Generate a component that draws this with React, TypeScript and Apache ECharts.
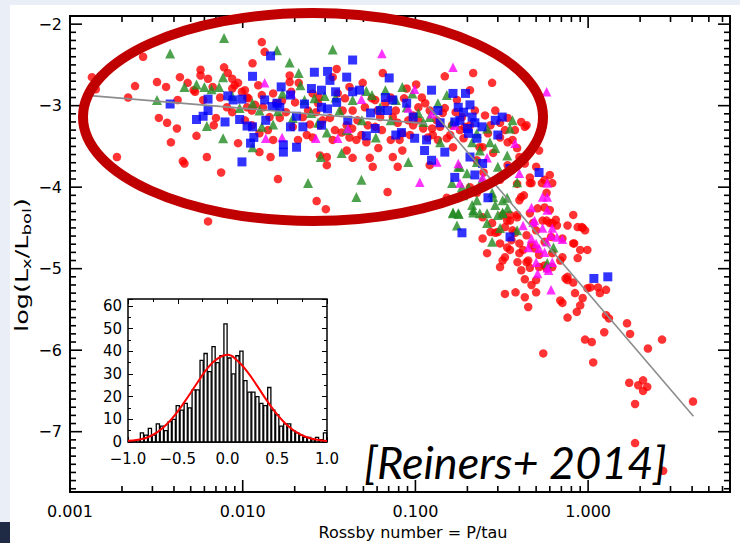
import React, { useEffect, useRef } from "react";
import * as echarts from "echarts";

// Rossby number (P/tau) vs log(Lx/Lbol) — four stellar samples
const RED_SAMPLE: [number, number][] = [
  [0.00134,-2.65],[0.00141,-2.80],[0.00187,-3.63],[0.00217,-2.90],[0.00238,-2.76],[0.00265,-2.40],[0.00319,-2.71],[0.00327,-3.15],[0.00365,-3.21],[0.00416,-3.28],[0.00384,-3.45],[0.00433,-2.65],[0.0045,-3.68],[0.0046,-3.71],[0.0048,-2.72],[0.0053,-2.83],[0.0054,-3.37],[0.0057,-2.56],[0.0062,-3.63],[0.0063,-2.67],[0.0070,-3.15],[0.0075,-3.82],[0.0078,-2.53],[0.0082,-2.60],[0.0087,-2.67],[0.0090,-2.75],[0.0099,-2.83],[0.0106,-2.90],[0.0094,-3.46],[0.0114,-2.48],[0.0125,-3.57],[0.0129,-2.22],[0.0134,-2.34],[0.0131,-3.02],[0.0145,-3.63],[0.0160,-3.90],[0.0164,-3.15],[0.0169,-2.94],[0.0187,-2.63],[0.0195,-3.26],[0.0211,-2.72],[0.0235,-3.36],[0.0254,-3.39],[0.0268,-4.17],[0.0276,-2.90],[0.0307,-3.63],[0.0307,-3.73],[0.0303,-4.27],[0.035,-2.55],[0.0332,-3.42],[0.0374,-3.33],[0.0433,-3.64],[0.0415,-2.77],[0.0495,-2.72],[0.0544,-3.64],[0.0566,-3.75],[0.056,-2.91],[0.0605,-3.06],[0.0647,-2.60],[0.069,-4.06],[0.074,-3.14],[0.081,-3.42],[0.084,-3.55],[0.089,-2.79],[0.097,-3.12],[0.101,-2.74],[0.109,-2.90],[0.126,-3.36],[0.144,-3.09],[0.148,-2.64],[0.152,-4.13],[0.165,-3.51],[0.181,-3.30],[0.216,-2.60],[0.235,-3.51],[0.248,-3.82],[0.278,-2.72],[0.29,-3.06],[0.309,-3.91],[0.342,-3.45],[0.388,-3.52],[0.41,-3.20],[0.43,-3.26],[0.41,-4.12],[0.46,-3.95],[0.54,-3.95],[0.60,-3.85],[0.60,-4.44],[0.43,-3.71],
  [0.0057,-2.63],[0.0087,-2.79],[0.0103,-2.81],[0.0108,-2.91],[0.0106,-3.02],[0.0113,-3.06],[0.0125,-3.34],[0.0113,-3.24],[0.0150,-2.85],[0.0156,-2.97],[0.0187,-2.71],[0.0191,-2.83],[0.0201,-2.96],[0.0223,-3.14],[0.0239,-3.06],[0.0254,-2.85],[0.0273,-2.97],[0.028,-3.24],[0.029,-3.18],[0.0332,-2.65],[0.0355,-2.85],[0.0379,-3.06],[0.040,-3.24],[0.0415,-3.39],[0.0433,-3.06],[0.0462,-3.18],[0.0487,-3.36],[0.052,-3.45],[0.0585,-3.26],[0.0625,-3.14],[0.067,-2.97],[0.072,-2.90],[0.079,-3.21],[0.084,-3.34],[0.091,-3.18],[0.097,-3.24],[0.104,-3.02],[0.111,-3.28],[0.118,-3.39],[0.121,-3.06],[0.133,-3.18],[0.139,-3.26],[0.152,-3.40],[0.163,-3.24],[0.174,-2.93],[0.186,-3.14],[0.193,-3.26],[0.207,-2.81],[0.221,-3.06],[0.227,-3.67],[0.245,-3.51],[0.263,-3.34],[0.282,-3.58],[0.309,-3.21],[0.33,-3.30],[0.342,-3.73],[0.365,-3.42],[0.40,-3.63],[0.44,-3.24],[0.46,-3.88],[0.50,-3.75],[0.52,-3.55],[0.56,-3.91],[0.575,-4.07],[0.62,-3.95],[0.60,-4.28],[0.65,-4.40],[0.061,-3.52],[0.074,-3.63],[0.079,-3.75],[0.040,-3.55],[0.028,-3.61],[0.0143,-3.14],[0.0150,-3.42],[0.0081,-3.02],[0.0067,-2.77],[0.0052,-2.81],[0.0059,-2.93],[0.0042,-2.93],[0.0036,-2.77],[0.0063,-4.42],
  [0.0118,-2.99],[0.0129,-2.87],[0.0140,-3.30],[0.0178,-3.08],[0.0209,-3.42],[0.0245,-3.23],[0.0266,-3.08],[0.032,-3.15],[0.0342,-3.30],[0.0391,-2.91],[0.043,-3.28],[0.0455,-3.42],[0.051,-3.02],[0.053,-3.24],[0.0585,-2.93],[0.064,-3.30],[0.072,-3.42],[0.077,-3.06],[0.086,-2.91],[0.093,-3.36],[0.104,-3.18],[0.114,-2.97],[0.125,-3.28],[0.135,-3.42],[0.148,-3.03],[0.159,-3.36],[0.171,-3.08],[0.19,-3.40],[0.207,-3.24],[0.253,-3.12],[0.272,-3.24],[0.309,-3.39],[0.342,-3.15],[0.377,-3.30],[0.0087,-3.08],[0.0074,-2.90],[0.0068,-3.24],[0.0094,-2.72],[0.0103,-3.18],[0.0123,-2.75],
  [0.207,-4.00],[0.227,-4.07],[0.245,-4.63],[0.278,-4.44],[0.29,-4.56],[0.309,-4.69],[0.33,-4.86],[0.353,-4.41],[0.365,-4.53],[0.388,-4.37],[0.388,-3.96],[0.425,-4.10],[0.40,-4.69],[0.42,-4.77],[0.45,-4.90],[0.44,-4.59],[0.47,-3.95],[0.51,-4.26],[0.56,-4.25],[0.48,-4.44],[0.50,-4.53],[0.49,-4.75],[0.575,-4.41],[0.62,-4.44],[0.56,-4.67],[0.52,-4.83],[0.61,-4.61],[0.71,-4.63],[0.66,-4.47],[0.76,-4.47],[0.82,-4.34],[0.87,-4.49],[0.93,-4.50],[0.83,-4.69],[0.90,-4.77],[0.99,-4.77],[0.71,-4.86],[0.87,-4.87],[0.76,-5.10],[0.43,-5.13],[0.47,-5.20],[0.50,-5.14],[0.38,-5.29],[0.33,-5.31],[0.43,-5.35],[0.45,-5.47],[0.50,-5.29],[0.69,-5.39],[0.71,-5.42],[0.74,-5.12],[0.82,-5.17],[0.84,-5.30],[0.76,-5.60],[0.86,-5.53],[0.90,-5.45],[0.93,-5.36],[0.99,-5.24],[1.03,-5.23],[1.14,-5.23],[1.17,-5.30],[1.27,-5.26],[1.27,-5.57],[1.32,-5.61],[0.96,-5.87],[1.05,-5.90],[1.24,-5.78],[1.68,-5.67],[1.75,-5.80],[1.07,-6.15],[0.55,-6.04],[2.22,-5.98],[2.68,-5.87],[1.73,-6.40],[1.95,-6.43],[2.08,-6.37],[2.2,-6.45],[2.08,-6.50],[1.87,-6.66],[4.05,-6.63],[1.87,-7.14],[2.72,-7.48],[0.40,-4.16],[0.46,-4.32],[0.32,-4.34],[0.34,-4.74],[0.33,-4.49],[0.36,-4.65],[0.39,-4.92],[0.41,-5.02],[0.56,-4.96],[0.46,-4.99],[0.121,-3.73],
  [0.30,-4.55],[0.34,-4.41],[0.353,-4.77],[0.377,-4.56],[0.40,-4.81],[0.44,-4.92],[0.47,-4.71],[0.52,-4.98],[0.575,-5.00],[0.309,-4.98],[0.272,-4.55],[0.388,-4.34],[0.62,-4.81],[0.69,-4.90],[0.76,-5.14],[0.82,-4.69],[0.92,-4.49],[0.96,-4.53],[0.245,-4.37],[0.26,-4.81],[0.353,-4.34],[0.32,-4.90],[0.545,-4.41],[0.62,-4.98]
];

const GREEN_SAMPLE: [number, number][] = [
  [0.00319,-2.93],[0.0038,-2.36],[0.0046,-2.77],[0.0054,-2.74],[0.0060,-2.77],[0.0062,-3.25],[0.0066,-2.80],[0.0073,-2.77],[0.0077,-2.65],[0.0078,-2.17],[0.0077,-3.40],[0.0087,-2.88],[0.0096,-3.03],[0.0114,-2.97],[0.0114,-3.51],[0.0125,-3.06],[0.0129,-3.26],[0.0150,-3.23],[0.0158,-2.32],[0.016,-3.07],[0.017,-2.85],[0.0187,-2.47],[0.0195,-3.15],[0.0211,-2.60],[0.0216,-2.75],[0.0228,-2.93],[0.0239,-3.95],[0.0249,-3.09],[0.026,-2.91],[0.0273,-3.21],[0.0283,-3.63],[0.0298,-2.88],[0.0307,-3.33],[0.0332,-2.31],[0.0345,-2.90],[0.0363,-3.06],[0.0374,-3.58],[0.040,-3.30],[0.0433,-2.93],[0.0455,-4.12],[0.0487,-3.91],[0.049,-3.18],[0.052,-2.82],[0.056,-2.87],[0.059,-3.39],[0.0625,-3.02],[0.067,-2.81],[0.072,-3.18],[0.077,-2.93],[0.084,-2.77],[0.089,-3.02],[0.096,-2.85],[0.091,-3.69],[0.104,-3.09],[0.111,-3.20],[0.121,-3.14],[0.135,-2.97],[0.139,-3.45],[0.152,-2.87],[0.163,-3.21],[0.165,-4.32],[0.174,-4.47],[0.177,-3.75],[0.189,-4.10],[0.199,-3.83],[0.216,-4.28],[0.227,-3.69],[0.236,-3.55],[0.26,-4.44],[0.27,-3.45],[0.282,-4.12],[0.29,-3.52],[0.30,-3.75],[0.32,-4.32],[0.34,-3.61],[0.353,-3.28],[0.365,-3.18],[0.388,-3.94],[0.227,-3.34],[0.26,-3.28],[0.213,-3.45],[0.243,-3.91],[0.203,-4.00],[0.181,-3.75],[0.163,-3.95],[0.186,-4.00],[0.165,-4.31],[0.177,-4.32],[0.213,-4.22],[0.216,-4.31],[0.227,-4.16],[0.236,-4.32],[0.26,-4.32],[0.278,-4.07],[0.29,-4.22],[0.30,-4.34],[0.32,-4.31],[0.32,-4.16],[0.34,-4.13],[0.342,-4.26],[0.309,-4.50],[0.278,-4.67],[0.388,-4.53],[0.63,-4.74],[0.58,-4.93],[0.178,-4.33]
];

const BLUE_SAMPLE: [number, number][] = [
  [0.0038,-2.98],[0.0054,-3.17],[0.0059,-3.13],[0.0063,-2.92],[0.0063,-3.06],[0.0079,-3.20],[0.0082,-2.88],[0.0088,-2.93],[0.0099,-2.92],[0.0096,-3.17],[0.0099,-3.69],[0.0106,-3.25],[0.0114,-3.26],[0.0114,-2.64],[0.0116,-3.39],[0.0111,-3.46],[0.0134,-2.93],[0.0136,-3.18],[0.0145,-2.39],[0.0148,-3.01],[0.0158,-2.97],[0.0164,-3.02],[0.0167,-2.77],[0.0172,-3.48],[0.0172,-3.57],[0.0189,-2.87],[0.0189,-3.26],[0.0205,-3.51],[0.0205,-3.13],[0.0223,-3.26],[0.0228,-2.98],[0.025,-2.79],[0.026,-2.59],[0.0286,-2.81],[0.0286,-3.02],[0.0286,-3.24],[0.031,-2.58],[0.032,-2.69],[0.031,-3.04],[0.0345,-2.83],[0.035,-2.96],[0.040,-2.65],[0.0406,-3.18],[0.0433,-2.44],[0.0433,-2.83],[0.0475,-2.81],[0.052,-3.37],[0.055,-3.09],[0.0585,-3.28],[0.0625,-3.06],[0.067,-2.90],[0.0705,-2.66],[0.069,-3.06],[0.074,-2.93],[0.077,-3.36],[0.083,-3.33],[0.089,-2.97],[0.097,-3.14],[0.099,-3.40],[0.113,-3.55],[0.116,-3.42],[0.124,-2.81],[0.124,-3.67],[0.135,-3.06],[0.139,-3.21],[0.148,-3.57],[0.165,-2.85],[0.169,-3.20],[0.169,-3.88],[0.177,-3.02],[0.181,-3.18],[0.19,-3.08],[0.195,-2.85],[0.20,-3.28],[0.203,-3.34],[0.207,-2.99],[0.213,-3.14],[0.207,-3.63],[0.221,-3.21],[0.221,-3.85],[0.227,-3.40],[0.243,-3.26],[0.245,-3.71],[0.263,-4.13],[0.29,-3.18],[0.30,-3.36],[0.318,-3.14],[0.353,-3.77],[0.52,-3.82],[0.186,-4.56],[0.353,-4.61],[1.08,-5.12],[1.30,-5.10]
];

const MAGENTA_SAMPLE: [number, number][] = [
  [0.0134,-2.72],[0.0136,-3.40],[0.0169,-3.39],[0.0191,-2.85],[0.0265,-3.40],[0.0355,-3.40],[0.0406,-3.28],[0.0487,-2.92],[0.064,-2.36],[0.091,-3.03],[0.099,-2.80],[0.106,-3.94],[0.124,-3.10],[0.133,-3.69],[0.165,-2.53],[0.169,-3.24],[0.177,-3.71],[0.245,-3.88],[0.26,-3.64],[0.377,-3.46],[0.40,-3.83],[0.575,-2.83],[0.58,-3.95],[0.58,-4.12],[0.545,-4.12],[0.58,-4.28],[0.47,-4.25],[0.49,-4.41],[0.42,-4.47],[0.545,-4.50],[0.62,-4.50],[0.61,-4.59],[0.47,-4.63],[0.45,-4.74],[0.50,-4.69],[0.52,-4.75],[0.56,-4.80],[0.62,-4.92],[0.50,-4.92],[0.58,-4.99],[0.51,-5.06],[0.71,-4.64],[0.61,-5.26],[0.181,-3.95],[0.66,-4.61],[0.575,-4.67],[0.59,-5.02],[0.48,-4.43]
];

// Broken power-law fit: saturated branch and unsaturated branch
const FIT_SATURATED: [number, number][] = [[0.00136, -2.88], [0.116, -3.22]];
const FIT_UNSATURATED: [number, number][] = [[0.119, -3.01], [4.07, -6.81]];

// Inset: histogram of residuals (bin counts) and its Gaussian fit
const HIST_START = -1.0;
const HIST_BIN = 0.04;
const HIST_COUNTS = [0,0,1,4,3,6,3,8,7,5,9,10,16,14,17,15,23,23,36,39,31,42,35,38,52,37,30,38,40,27,22,22,20,17,16,24,14,12,7,8,8,5,4,3,2,2,1,2,1,4];
const GAUSS_X = [-1.0,-0.9,-0.8,-0.7,-0.6,-0.5,-0.4,-0.3,-0.2,-0.1,0.0,0.1,0.2,0.3,0.4,0.5,0.6,0.7,0.8,0.9,1.0];
const GAUSS_Y = [0.5,1.0,2.1,4.5,8.3,13.5,19.7,26.3,32.5,36.7,38.4,35.8,30.9,24.6,18.0,12.1,7.4,4.1,2.1,1.0,0.4];

// Axis extents
const X_MIN = 0.001;
const X_MAX = 6.63;
const Y_MIN = -7.74;
const Y_MAX = -1.9;
const Y_LABELS = [-7, -6, -5, -4, -3, -2];
const X_DECADES = [0.001, 0.01, 0.1, 1];

const FONT = "DejaVu Sans";
const minus = (s: string) => s.replace("-", "\u2212");

function buildTicks() {
  const xTicks: [number, number, number][] = [];
  X_DECADES.forEach((d) => {
    xTicks.push([d, Y_MIN, 12]);
    for (let k = 2; k <= 9; k++) {
      const v = k * d;
      if (v < X_MAX) xTicks.push([v, Y_MIN, 6]);
    }
  });
  const yTicks: [number, number, number][] = [];
  for (let i = -77; i <= -19; i++) {
    const v = i / 10;
    yTicks.push([X_MIN, v, i % 10 === 0 ? 12 : 6]);
  }
  return { xTicks, yTicks };
}

export default function App() {
  const ref = useRef<HTMLDivElement>(null);

  useEffect(() => {
    if (!ref.current) return;
    const chart = echarts.init(ref.current, null, { renderer: "svg" });
    const { xTicks, yTicks } = buildTicks();
    const tickStyle = { stroke: "#000", lineWidth: 1.6 };

    const gaussData = GAUSS_X.map((x, i) => [x, GAUSS_Y[i]]);
    const histData = HIST_COUNTS.map((c, i) => [HIST_START + i * HIST_BIN, c]);

    const insetLabel = { fontFamily: FONT, fontSize: 15, color: "#000" };
    const insetTick = { inside: true, length: 5, lineStyle: { color: "#000" } };
    const insetMinor = { show: true, splitNumber: 2, length: 3, lineStyle: { color: "#000" } };
    const noLine = { show: false, onZero: false };

    chart.setOption({
      animation: false,
      textStyle: { fontFamily: FONT },
      grid: [
        {
          left: 70, top: 16, width: 660, height: 476,
          show: true, borderColor: "#000", borderWidth: 2,
          backgroundColor: "transparent",
        },
        {
          left: 128, top: 299, width: 199, height: 143,
          show: true, borderColor: "#000", borderWidth: 1.5,
          backgroundColor: "#fff", z: 10,
        },
      ],
      xAxis: [
        {
          type: "log", logBase: 10, gridIndex: 0, min: X_MIN, max: X_MAX,
          axisLine: noLine, axisTick: { show: false }, splitLine: { show: false },
          axisLabel: {
            fontFamily: FONT, fontSize: 16, color: "#000", margin: 11,
            showMaxLabel: false, showMinLabel: true,
            formatter: (v: number) => v.toFixed(3),
          },
        },
        {
          type: "value", gridIndex: 1, min: -1, max: 1, interval: 0.5, z: 10,
          axisLine: noLine, splitLine: { show: false },
          axisTick: insetTick, minorTick: insetMinor,
          axisLabel: { ...insetLabel, margin: 9, formatter: (v: number) => minus(v.toFixed(1)) },
        },
        {
          type: "value", gridIndex: 1, position: "top", min: -1, max: 1, interval: 0.5, z: 10,
          axisLine: noLine, splitLine: { show: false },
          axisTick: insetTick, minorTick: insetMinor,
          axisLabel: { show: false },
        },
      ],
      yAxis: [
        {
          type: "value", gridIndex: 0, min: Y_MIN, max: Y_MAX,
          axisLine: noLine, axisTick: { show: false }, splitLine: { show: false },
          axisLabel: {
            fontFamily: FONT, fontSize: 16, color: "#000", margin: 8,
            customValues: Y_LABELS,
            formatter: (v: number) => minus(String(v)),
          },
        },
        {
          type: "value", gridIndex: 1, min: 0, max: 63, interval: 10, z: 10,
          axisLine: noLine, splitLine: { show: false },
          axisTick: insetTick, minorTick: insetMinor,
          axisLabel: { ...insetLabel, margin: 6, showMaxLabel: false },
        },
        {
          type: "value", gridIndex: 1, position: "right", min: 0, max: 63, interval: 10, z: 10,
          axisLine: noLine, splitLine: { show: false },
          axisTick: insetTick, minorTick: insetMinor,
          axisLabel: { show: false },
        },
      ],
      series: [
        {
          type: "custom", xAxisIndex: 0, yAxisIndex: 0, silent: true, z: 20,
          data: xTicks, encode: { x: 0, y: 1 },
          renderItem: (_p: any, api: any) => {
            const v = api.value(0);
            const len = api.value(2);
            const b = api.coord([v, Y_MIN]);
            const t = api.coord([v, Y_MAX]);
            return {
              type: "group",
              children: [
                { type: "line", shape: { x1: b[0], y1: b[1], x2: b[0], y2: b[1] - len }, style: tickStyle },
                { type: "line", shape: { x1: t[0], y1: t[1], x2: t[0], y2: t[1] + len }, style: tickStyle },
              ],
            };
          },
        },
        {
          type: "custom", xAxisIndex: 0, yAxisIndex: 0, silent: true, z: 20,
          data: yTicks, encode: { x: 0, y: 1 },
          renderItem: (_p: any, api: any) => {
            const v = api.value(1);
            const len = api.value(2);
            const l = api.coord([X_MIN, v]);
            const r = api.coord([X_MAX, v]);
            return {
              type: "group",
              children: [
                { type: "line", shape: { x1: l[0], y1: l[1], x2: l[0] + len, y2: l[1] }, style: tickStyle },
                { type: "line", shape: { x1: r[0], y1: r[1], x2: r[0] - len, y2: r[1] }, style: tickStyle },
              ],
            };
          },
        },
        {
          name: "red", type: "scatter", xAxisIndex: 0, yAxisIndex: 0, z: 3,
          symbol: "circle", symbolSize: 8.5,
          itemStyle: { color: "#ff0000" }, data: RED_SAMPLE,
        },
        {
          name: "green", type: "scatter", xAxisIndex: 0, yAxisIndex: 0, z: 4,
          symbol: "triangle", symbolSize: 10,
          itemStyle: { color: "#228b22" }, data: GREEN_SAMPLE,
        },
        {
          name: "magenta", type: "scatter", xAxisIndex: 0, yAxisIndex: 0, z: 5,
          symbol: "triangle", symbolSize: 9.5,
          itemStyle: { color: "#ff00ff" }, data: MAGENTA_SAMPLE,
        },
        {
          name: "blue", type: "scatter", xAxisIndex: 0, yAxisIndex: 0, z: 6,
          symbol: "rect", symbolSize: 9,
          itemStyle: { color: "#0000ff" }, data: BLUE_SAMPLE,
        },
        {
          type: "line", xAxisIndex: 0, yAxisIndex: 0, z: 7, silent: true,
          symbol: "none", data: FIT_SATURATED,
          lineStyle: { color: "#8c8c8c", width: 1.6 },
        },
        {
          type: "line", xAxisIndex: 0, yAxisIndex: 0, z: 7, silent: true,
          symbol: "none", data: FIT_UNSATURATED,
          lineStyle: { color: "#8c8c8c", width: 1.6 },
        },
        {
          type: "custom", xAxisIndex: 1, yAxisIndex: 1, z: 11, silent: true,
          data: histData, encode: { x: 0, y: 1 },
          renderItem: (_p: any, api: any) => {
            const lo = api.value(0);
            const c = api.value(1);
            const p0 = api.coord([lo, c]);
            const p1 = api.coord([lo + HIST_BIN, 0]);
            return {
              type: "rect",
              shape: { x: p0[0] + 0.4, y: p0[1], width: p1[0] - p0[0] - 0.8, height: p1[1] - p0[1] },
              style: { fill: "#fff", stroke: "#000", lineWidth: 1.3 },
            };
          },
        },
        {
          type: "line", xAxisIndex: 1, yAxisIndex: 1, z: 12, silent: true,
          symbol: "none", smooth: true, data: gaussData,
          lineStyle: { color: "#ff0000", width: 2 },
        },
      ],
      graphic: [
        {
          type: "ellipse", z: 50, silent: true,
          shape: { cx: 313, cy: 117, rx: 230, ry: 104 },
          style: { fill: "none", stroke: "#c00000", lineWidth: 10 },
        },
        {
          type: "text", z: 50, silent: true, x: 364, y: 462,
          style: {
            text: "[Reiners+ 2014]", fontFamily: "Lato", fontStyle: "italic",
            fontSize: 45, fill: "#000", verticalAlign: "middle", align: "left",
          },
        },
        {
          type: "text", z: 50, silent: true, x: 413, y: 532,
          style: {
            text: "Rossby number = P/tau", fontFamily: FONT, fontSize: 16,
            fill: "#000", align: "center", verticalAlign: "middle",
          },
        },
        {
          type: "text", z: 50, silent: true, x: 22, y: 265,
          rotation: Math.PI / 2, scaleX: 1.5,
          style: {
            text: "{m|log(L}{s|x}{m|/L}{s|bol}{m|)}",
            align: "center", verticalAlign: "middle", fill: "#000",
            rich: {
              m: { fontFamily: FONT, fontSize: 17, lineHeight: 22, fill: "#000" },
              s: { fontFamily: FONT, fontSize: 12, lineHeight: 12, fill: "#000", verticalAlign: "bottom" },
            },
          },
        },
      ],
    });

    return () => chart.dispose();
  }, []);

  return (
    <div style={{ position: "fixed", left: 0, top: 0, width: 740, height: 543, background: "#e9eef7", overflow: "hidden" }}>
      <div style={{ position: "absolute", left: 10, top: 5, right: 0, bottom: 0, background: "#fff" }} />
      <div style={{ position: "absolute", left: 0, top: 522, width: 10, bottom: 0, background: "#1f2a44" }} />
      <div ref={ref} style={{ position: "absolute", left: 0, top: 0, width: 740, height: 543 }} />
    </div>
  );
}
